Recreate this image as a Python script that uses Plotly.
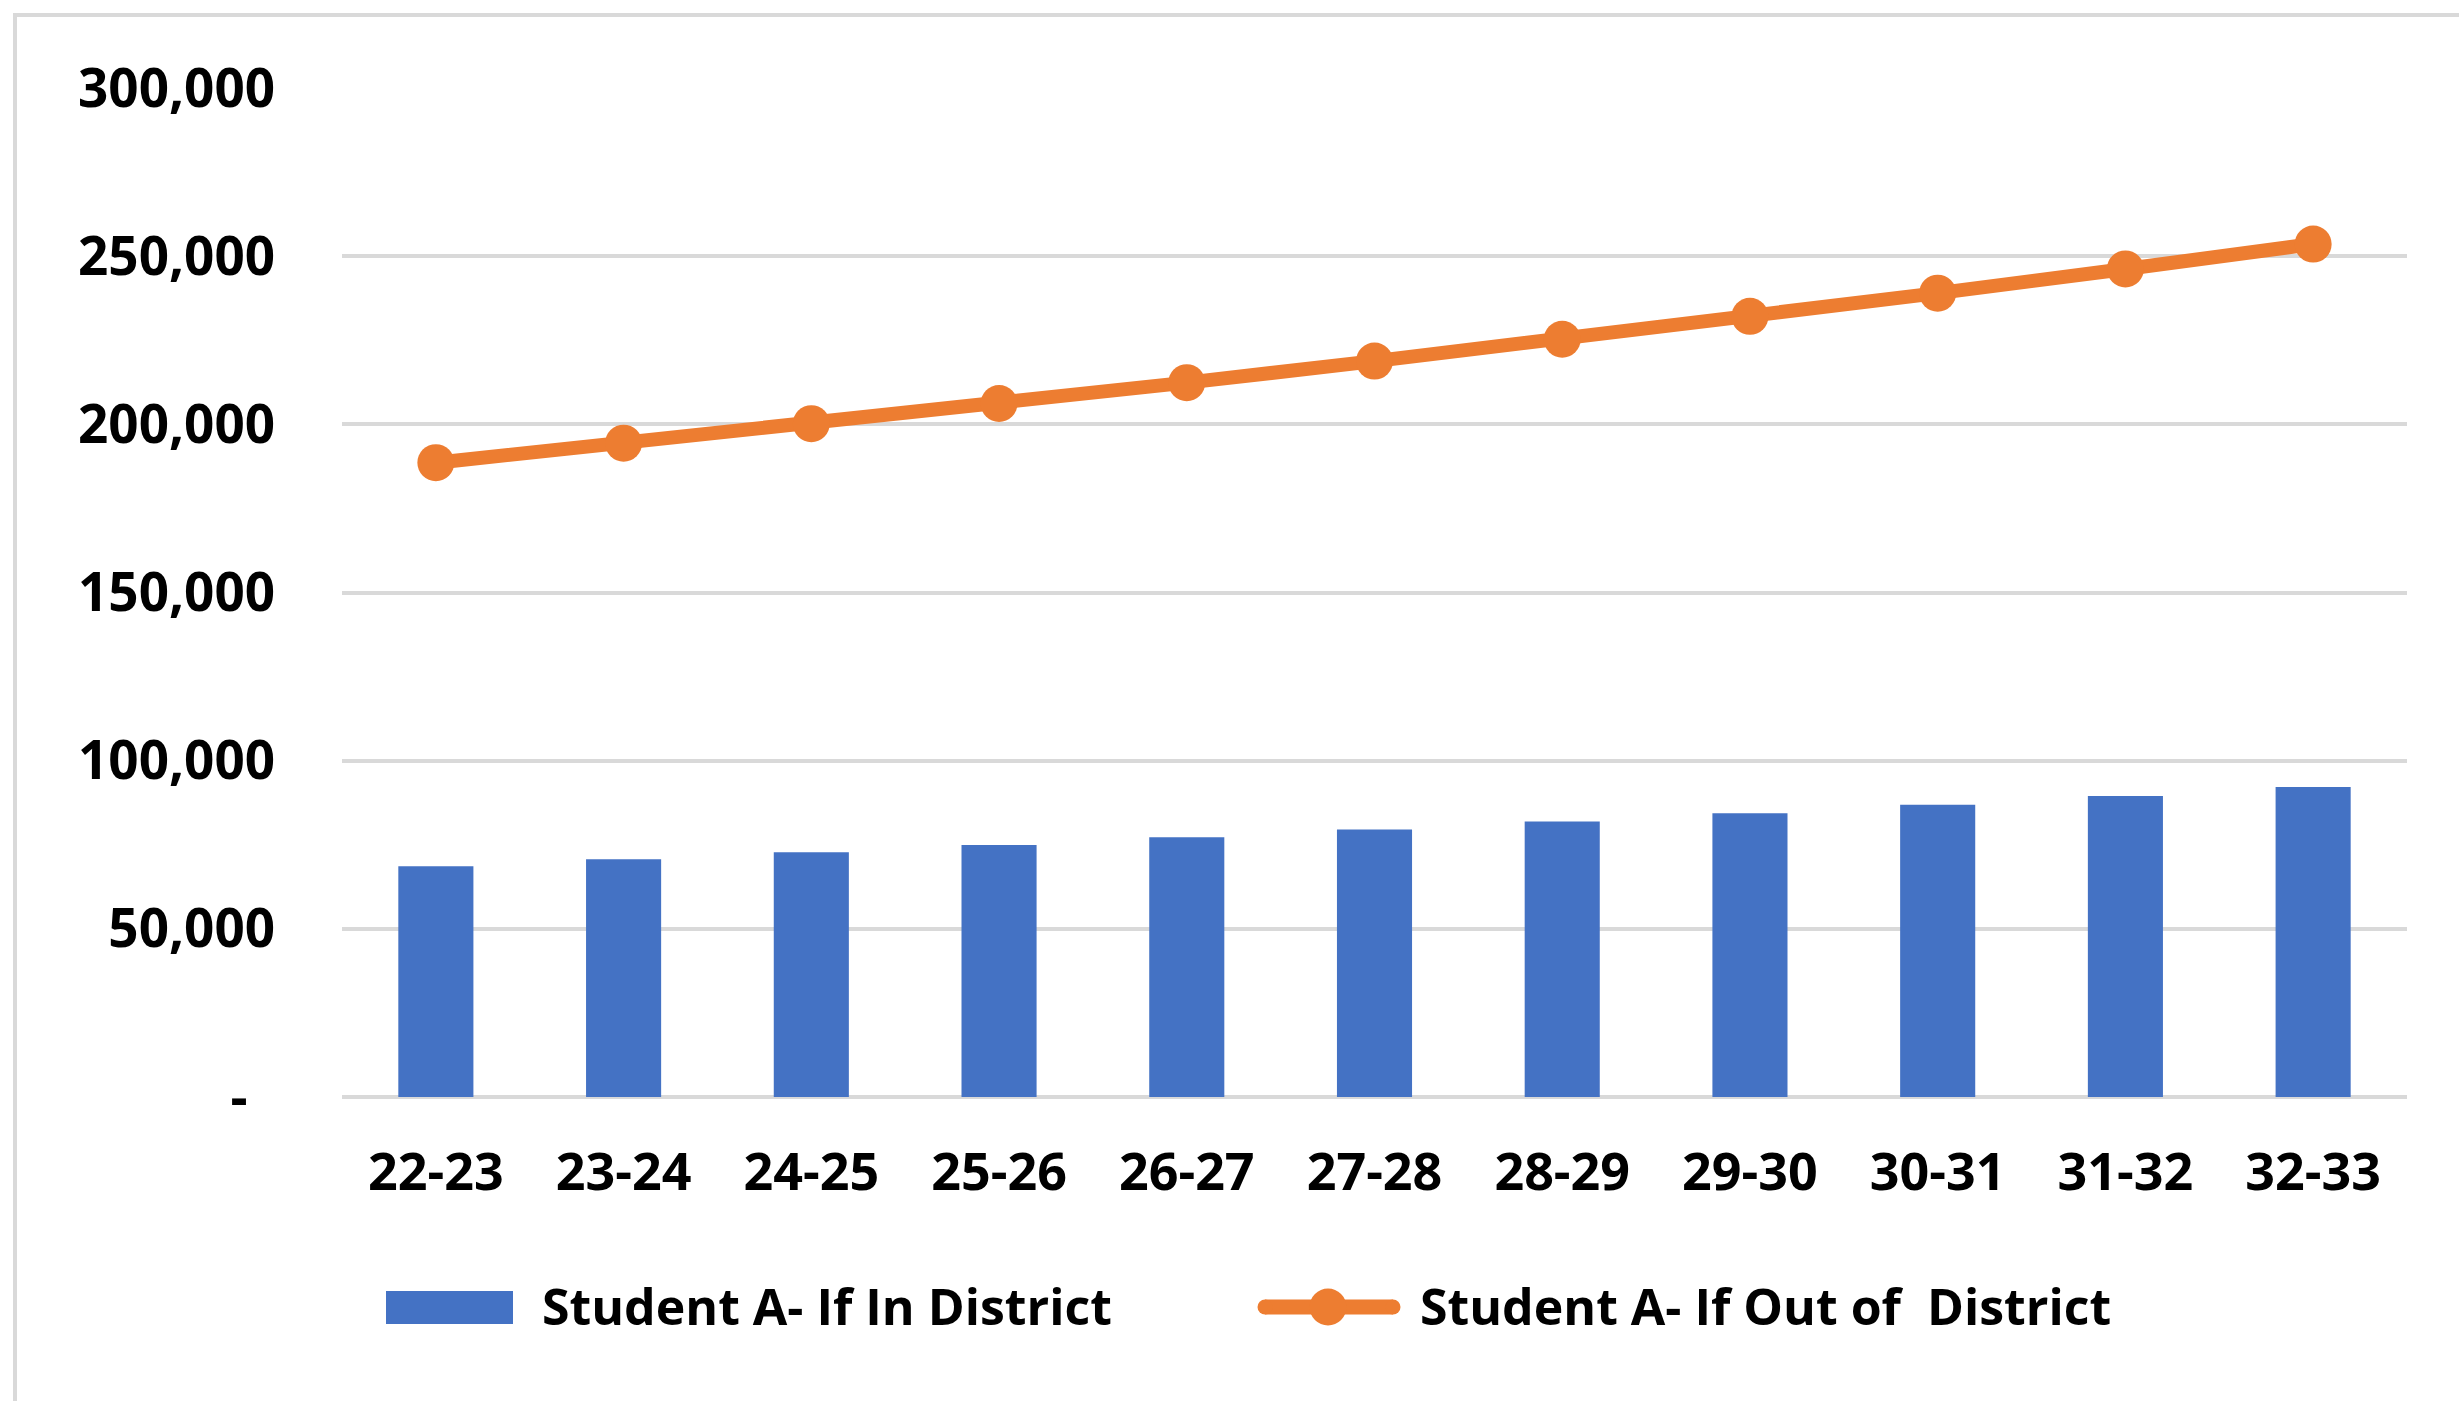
import plotly.graph_objects as go

# School years on the category axis
years = ["22-23", "23-24", "24-25", "25-26", "26-27", "27-28",
         "28-29", "29-30", "30-31", "31-32", "32-33"]

# Annual cost for each placement option
in_district = [68600, 70700, 72800, 74900, 77200, 79500,
               81900, 84400, 86900, 89500, 92200]
out_of_district = [188600, 194400, 200200, 206200, 212400, 218800,
                   225300, 232100, 239000, 246200, 253600]

# Value axis ticks
y_ticks = [0, 50000, 100000, 150000, 200000, 250000, 300000]
y_tick_text = ["-\u00a0\u00a0", "50,000", "100,000", "150,000",
               "200,000", "250,000", "300,000"]

series_names = ["Student A- If In District",
                "Student A- If Out of\u00a0\u00a0District"]

BLUE = "#4472C4"
ORANGE = "#ED7D31"
GRID = "#D9D9D9"
FONT = "Open Sans"

W, H = 2459, 1401
L, R, T, B = 342, 52, 88, 304
PW, PH = W - L - R, H - T - B


def px(x):
    return (x - L) / PW


def py(y):
    return (H - B - y) / PH


def circle(cx, cy, r, color):
    return dict(type="circle", xref="paper", yref="paper",
                x0=px(cx - r), x1=px(cx + r),
                y0=py(cy + r), y1=py(cy - r),
                fillcolor=color, line=dict(width=0))


fig = go.Figure()
fig.add_trace(go.Bar(
    x=years, y=in_district, name=series_names[0],
    marker=dict(color=BLUE, line=dict(width=0)),
))
fig.add_trace(go.Scatter(
    x=years, y=out_of_district, name=series_names[1],
    mode="lines+markers",
    line=dict(color=ORANGE, width=14),
    marker=dict(color=ORANGE, size=37),
))

leg_y = 1307
shapes = [
    # outer chart frame (left and top edges)
    dict(type="line", xref="paper", yref="paper",
         x0=px(15), x1=px(15), y0=py(15), y1=py(H + 10),
         line=dict(color=GRID, width=4)),
    dict(type="line", xref="paper", yref="paper",
         x0=px(13), x1=px(W + 10), y0=py(15), y1=py(15),
         line=dict(color=GRID, width=4)),
    # legend swatch: bars
    dict(type="rect", xref="paper", yref="paper",
         x0=px(386), x1=px(513), y0=py(1324), y1=py(1291),
         fillcolor=BLUE, line=dict(width=0)),
    # legend swatch: line with rounded ends and marker
    dict(type="line", xref="paper", yref="paper",
         x0=px(1265), x1=px(1393), y0=py(leg_y), y1=py(leg_y),
         line=dict(color=ORANGE, width=15)),
    circle(1265, leg_y, 7.5, ORANGE),
    circle(1393, leg_y, 7.5, ORANGE),
    circle(1328, leg_y, 18.5, ORANGE),
]

annotations = [
    dict(text=series_names[0], xref="paper", yref="paper",
         x=px(540), y=py(1306), xanchor="left", yanchor="middle",
         showarrow=False, font=dict(family=FONT, size=50, color="black")),
    dict(text=series_names[1], xref="paper", yref="paper",
         x=px(1418), y=py(1306), xanchor="left", yanchor="middle",
         showarrow=False, font=dict(family=FONT, size=50, color="black")),
]

fig.update_layout(
    width=W, height=H,
    margin=dict(l=L, r=R, t=T, b=B),
    paper_bgcolor="white", plot_bgcolor="white",
    showlegend=False,
    bargap=0.6,
    font=dict(family=FONT, size=52, color="black", weight="bold"),
    shapes=shapes,
    annotations=annotations,
)
fig.update_xaxes(
    type="category", range=[-0.5, len(years) - 0.5],
    showgrid=False, showline=False, ticks="",
    tickfont=dict(family=FONT, size=52, color="black", weight="bold"),
    ticklabelstandoff=40,
)
fig.update_yaxes(
    range=[0, 300000], tickvals=y_ticks, ticktext=y_tick_text,
    showgrid=True, gridcolor=GRID, gridwidth=4,
    zeroline=True, zerolinecolor=GRID, zerolinewidth=4,
    showline=False, ticks="",
    tickfont=dict(family=FONT, size=53, color="black", weight="bold"),
    ticklabelstandoff=66,
)

fig.write_html("out.html")
